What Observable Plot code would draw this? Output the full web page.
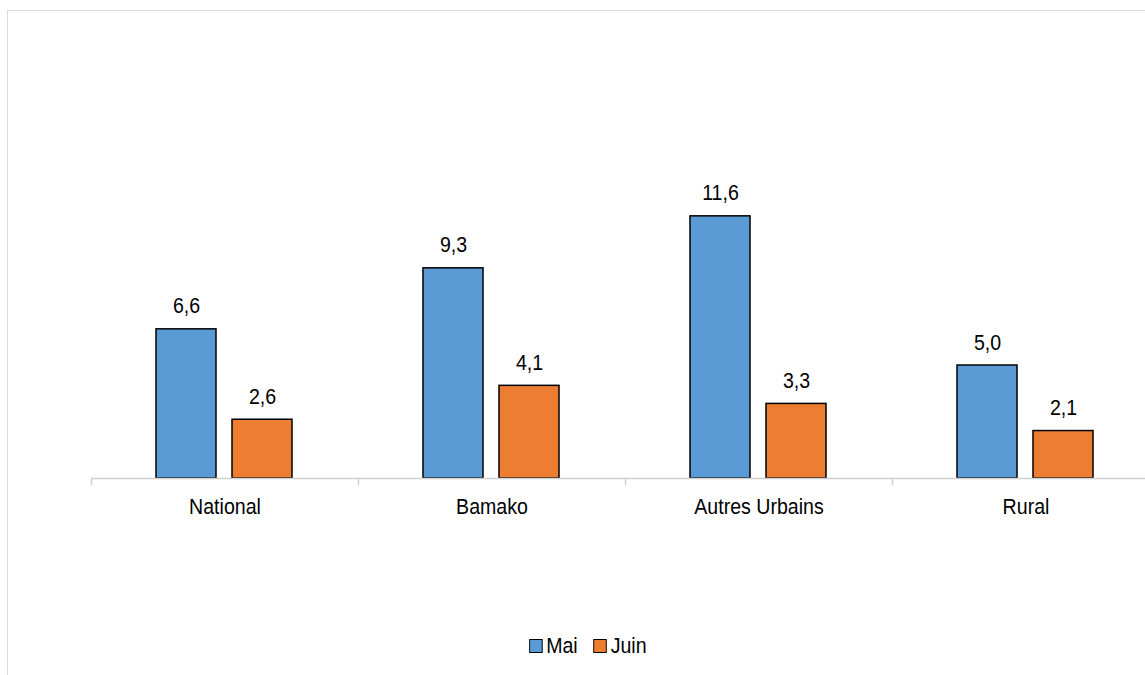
<!DOCTYPE html>
<html>
<head>
<meta charset="utf-8">
<script src="https://cdn.jsdelivr.net/npm/d3@7"></script>
<script src="https://cdn.jsdelivr.net/npm/@observablehq/plot@0.6"></script>
<style>
  html, body { margin: 0; padding: 0; background: #fff; overflow: hidden; }
  body { width: 1145px; height: 675px; position: relative; font-family: "Liberation Sans", Arial, sans-serif; }
  #frame { position: absolute; left: 7px; top: 10px; width: 1200px; height: 720px; border: 1.5px solid #d9d9d9; box-sizing: border-box; }
  #chart { position: absolute; left: 0; top: 0; }
  #legend { position: absolute; left: 15px; top: 633px; width: 1145px; text-align: center; font-size: 22px; color: #000; }
  #legend .inner { display: inline-flex; align-items: center; transform: scaleX(0.89); }
  #legend span.item { display: inline-flex; align-items: center; margin: 0 9px; }
  #legend span.sw { display: inline-block; width: 13px; height: 12px; border: 1.5px solid #000; margin-right: 4px; }
</style>
</head>
<body>
<div id="frame"></div>
<div id="chart"></div>
<div id="legend"><span class="inner"></span></div>
<script>
const categories = ["National", "Bamako", "Autres Urbains", "Rural"];
const series = ["Mai", "Juin"];
const mai = [6.6, 9.3, 11.6, 5.0];
const juin = [2.6, 4.1, 3.3, 2.1];
const colors = ["#5B9BD5", "#ED7D31"];

const data = categories.flatMap((c, i) => [
  {cat: c, s: "Mai", v: mai[i]},
  {cat: c, s: "Juin", v: juin[i]}
]);

const fmt = v => v.toFixed(1).replace(".", ",");
const font = '"Liberation Sans", Arial, sans-serif';

const chart = Plot.plot({
  width: 1145,
  height: 600,
  marginLeft: 90,
  marginRight: 0,
  marginTop: 26,
  marginBottom: 122,
  style: {fontFamily: font, fontSize: "22px", background: "transparent", color: "#000"},
  fx: {domain: categories, range: [90, 1160], padding: 0, label: null},
  x: {domain: series, paddingInner: 0.21, paddingOuter: 0.84, axis: null},
  y: {domain: [0, 20], axis: null},
  color: {domain: series, range: colors},
  marks: [
    Plot.barY(data, {fx: "cat", x: "s", y: "v", fill: "s", stroke: "#000", strokeWidth: 1.5}),
    Plot.ruleY([0], {stroke: "#d0d0d0", strokeWidth: 1.5}),
    Plot.frame({anchor: "left", stroke: "#d0d0d0", strokeWidth: 1.5, insetTop: 452, insetBottom: -6}),
    Plot.text(data, {fx: "cat", x: "s", y: "v", text: d => fmt(d.v), lineAnchor: "bottom", dy: -16, fontSize: 22, fill: "#000"}),
    Plot.axisFx({anchor: "bottom", tickSize: 0, tickPadding: 20, fontSize: 22, label: null, fill: "#000"})
  ]
});
document.getElementById("chart").appendChild(chart);

// Condense text horizontally (narrow-font look), scaling about each label's own centre
d3.select(chart).selectAll("text").each(function() {
  const b = this.getBBox();
  const cx = b.x + b.width / 2;
  const t = this.getAttribute("transform") || "";
  this.setAttribute("transform", `${t} translate(${cx},0) scale(0.89,1) translate(${-cx},0)`);
});

const legend = document.querySelector("#legend .inner");
series.forEach((s, i) => {
  const item = document.createElement("span");
  item.className = "item";
  const sw = document.createElement("span");
  sw.className = "sw";
  sw.style.background = colors[i];
  item.appendChild(sw);
  item.appendChild(document.createTextNode(s));
  legend.appendChild(item);
});
</script>
</body>
</html>
